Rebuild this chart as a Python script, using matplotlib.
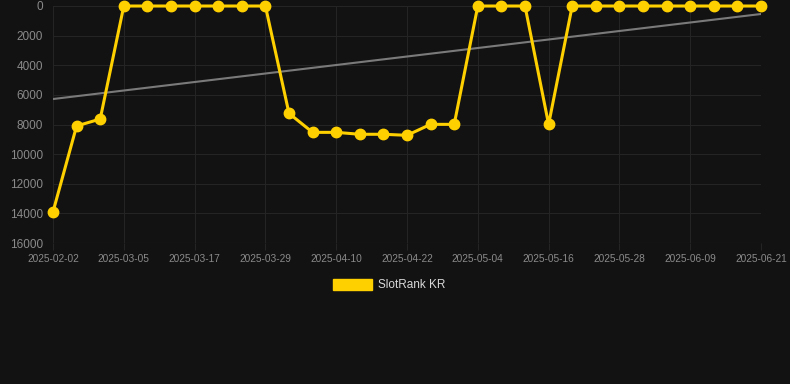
import matplotlib
matplotlib.use('Agg')
import matplotlib.pyplot as plt
from matplotlib.patches import Rectangle

plt.rcParams['font.family'] = ['Liberation Sans', 'DejaVu Sans']

# data
dates = ['2025-02-02', '2025-02-12', '2025-02-22',
         '2025-03-05', '2025-03-09', '2025-03-13', '2025-03-17', '2025-03-21', '2025-03-25',
         '2025-03-29', '2025-04-02', '2025-04-06', '2025-04-10', '2025-04-14', '2025-04-18',
         '2025-04-22', '2025-04-26', '2025-04-30', '2025-05-04', '2025-05-08', '2025-05-12',
         '2025-05-16', '2025-05-20', '2025-05-24', '2025-05-28', '2025-06-01', '2025-06-05',
         '2025-06-09', '2025-06-13', '2025-06-17', '2025-06-21']
rank = [13900, 8100, 7630,
        1, 1, 1, 1, 1, 1,
        1, 7250, 8530, 8530, 8660, 8660,
        8730, 7990, 7990, 1, 1, 1,
        7990, 1, 1, 1, 1, 1,
        1, 1, 1, 1]
trend = [6280, 540]
series_name = 'SlotRank KR'

BG = '#121212'
GOLD = '#FFD000'
GRID = '#242424'
TXT = '#8a8a8a'

fig = plt.figure(figsize=(7.9, 3.84), dpi=100, facecolor=BG)
ax = fig.add_axes([53 / 790, 1 - 243 / 384, (761 - 53) / 790, (243 - 6) / 384])
ax.set_facecolor(BG)

x = list(range(len(dates)))
ax.plot([x[0], x[-1]], trend, color='#7a7a7a', lw=1.5, zorder=2)
ax.plot(x, rank, color=GOLD, lw=2.2, marker='o', markersize=7.5,
        markerfacecolor=GOLD, markeredgecolor=GOLD, zorder=3, clip_on=False)

ax.set_xlim(0, len(dates) - 1)
ax.set_ylim(16000, 0)
ax.set_yticks(range(0, 16001, 2000))
ax.set_yticklabels([str(v) for v in range(0, 16001, 2000)])
ax.set_xticks(x[::3])
ax.set_xticklabels(dates[::3])

ax.grid(True, color=GRID, lw=0.8)
ax.set_axisbelow(True)
for s in ax.spines.values():
    s.set_visible(False)
ax.tick_params(axis='y', length=0, pad=7, labelsize=8.5, labelcolor=TXT)
ax.tick_params(axis='x', length=5, color=GRID, pad=3, labelsize=7.3, labelcolor=TXT)
ax.axhline(16000, color='#2a2a2a', lw=0.8)

# legend box drawn by hand in figure coords
fig.patches.append(Rectangle((333 / 790, 1 - 290 / 384), 39 / 790, 11 / 384,
                             transform=fig.transFigure, facecolor=GOLD, edgecolor=GOLD))
fig.text(378 / 790, 1 - 285 / 384, series_name, color='#d8d8d8', fontsize=8.5,
         va='center', ha='left')

fig.savefig('out.png', dpi=100, facecolor=BG)
